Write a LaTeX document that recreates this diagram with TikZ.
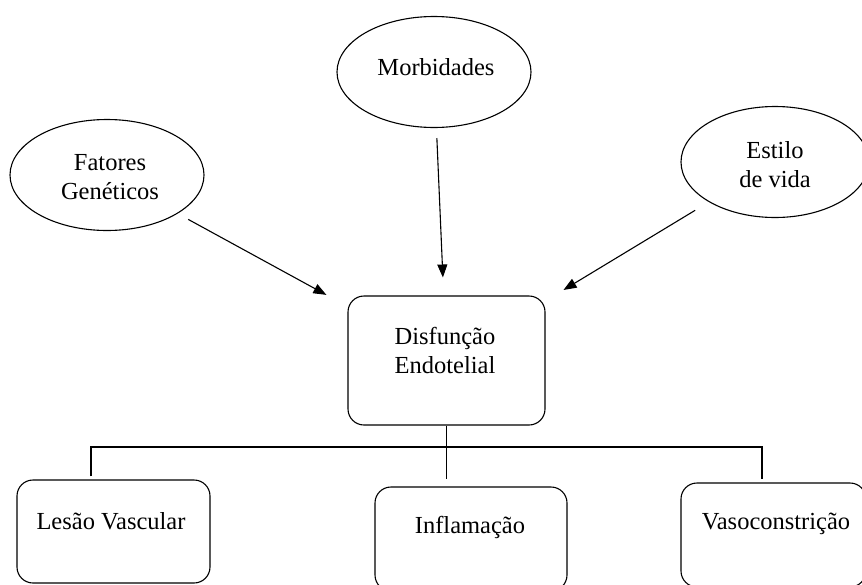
\documentclass[tikz,border=0pt]{standalone}
\usepackage{fontspec}
\setmainfont{Liberation Serif}
\usetikzlibrary{arrows.meta,shapes.geometric}
\begin{document}
\begin{tikzpicture}[x=1pt,y=-1pt,
  line width=1.1pt,
  ell/.style={draw, ellipse, inner sep=0pt, minimum width=194pt, minimum height=111pt},
  rbox/.style={draw, rectangle, rounded corners=16pt, inner sep=0pt},
  lbl/.style={align=center, inner sep=0pt, font=\fontsize{24.5}{29}\selectfont},
  arr/.style={-{Triangle[length=13pt,width=10pt]}}]
\clip (0,0) rectangle (862,584);
\fill[white] (0,0) rectangle (862,584);
% ellipses
\node[ell] (mor) at (434,72) {};
\node[lbl] (morT) at (436,67) {Morbidades};
\node[ell] (fat) at (107,175) {};
\node[lbl] (fatT) at (110,177) {Fatores\\Genéticos};
\node[ell, minimum width=188pt] (est) at (775,162) {};
\node[lbl] (estT) at (775,165) {Estilo\\de vida};
% central box
\node[rbox, minimum width=197pt, minimum height=129pt] (dis) at (446.5,360.5) {};
\node[lbl] (disT) at (445,350) {Disfunção\\Endotelial};
% bottom boxes
\node[rbox, minimum width=193pt, minimum height=103pt] (les) at (113.5,531.5) {};
\node[lbl] (lesT) at (111,521) {Lesão Vascular};
\node[rbox, minimum width=192pt, minimum height=104pt] (inf) at (471,539) {};
\node[lbl] (infT) at (470,527) {Inflamação};
\node[rbox, minimum width=185pt, minimum height=104pt] (vas) at (773.5,535) {};
\node[lbl] (vasT) at (776,524) {Vasoconstrição};
% arrows
\draw[arr, shorten <=12pt, shorten >=24pt] (fat) -- (dis);
\draw[arr, shorten <=10pt, shorten >=18pt] (mor) -- (dis);
\draw[arr, shorten <=16pt, shorten >=21pt] (est) -- (dis);
% tree connectors
\coordinate (bl) at (91,447);
\coordinate (br) at (762,447);
\draw (dis.south) -- ([yshift=7pt]dis.south |- inf.north);
\draw ([yshift=3pt]bl |- les.north) -- (bl) -- (br) -- ([yshift=3pt]br |- vas.north);
\end{tikzpicture}
\end{document}
